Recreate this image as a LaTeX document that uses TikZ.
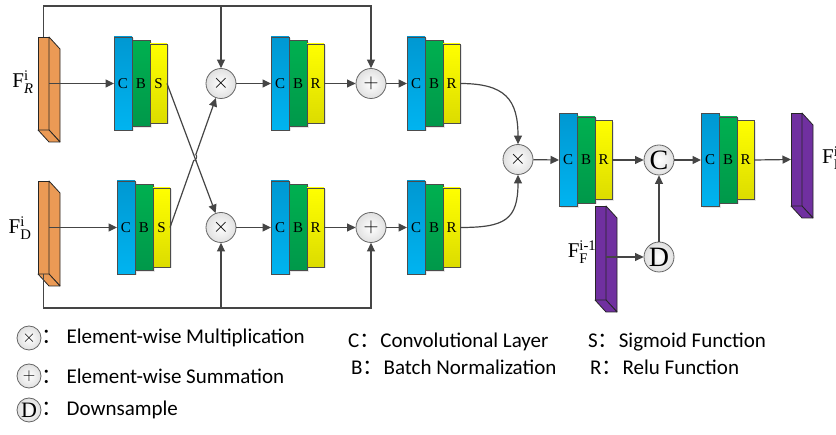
\documentclass[tikz,border=0pt]{standalone}
\usepackage{fontspec}
\usepackage{amsmath}
\setmainfont{Carlito}
\newfontfamily\tms{Liberation Serif}
\newfontfamily\cjk{Noto Sans CJK SC}
\usetikzlibrary{positioning,
				arrows.meta,
				shadows,
				intersections,
				calc}

\definecolor{lineg}{HTML}{454545}
\definecolor{cbluet}{HTML}{0098D2}
\definecolor{cblueb}{HTML}{00B4F0}
\definecolor{bgreent}{HTML}{00B050}
\definecolor{bgreenb}{HTML}{00984A}
\definecolor{syelt}{HTML}{FFFF00}
\definecolor{syelb}{HTML}{DCDC00}
\definecolor{slaborange}{HTML}{EB9A55}
\definecolor{slabpurple}{HTML}{7030A0}

\tikzset{
	blk/.style={draw=black!70, line width=0.8pt, inner sep=0pt, outer sep=0pt,
		font=\tms\fontsize{15}{15}\selectfont,
		drop shadow={opacity=0.2, shadow xshift=1.5pt, shadow yshift=-1.5pt}},
	blkC/.style={blk, minimum width=18, minimum height=93, top color=cbluet, bottom color=cblueb},
	blkB/.style={blk, minimum width=18, minimum height=86, top color=bgreent, bottom color=bgreenb},
	blkS/.style={blk, minimum width=17, minimum height=79, top color=syelt, bottom color=syelb},
	slabf/.style={draw=black!85, line width=0.8pt, inner sep=0pt, outer sep=0pt, minimum width=11},
	slabe/.style={draw=black!85, line width=0.8pt, line join=round},
	opnode/.style={circle, draw=black!60, line width=0.8pt, minimum size=30, inner sep=0pt,
		inner color=white, outer color=black!12, font=\fontsize{21}{21}\selectfont},
	legop/.style={opnode, minimum size=24, font=\fontsize{18}{18}\selectfont},
	flabel/.style={inner sep=0pt, font=\tms\fontsize{21}{21}\selectfont},
	legtext/.style={inner sep=0pt, font=\fontsize{21}{21}\selectfont},
	arr/.style={draw=lineg, line width=1.2pt, -{Triangle[length=8.5pt,width=8pt]}},
	conn/.style={draw=lineg, line width=1.2pt}
}

% three stacked layers: conv, batch norm, activation
\newcommand{\cbrgroup}[4]{%
	\node[blkC, anchor=west] (#1c) at (#2,#3) {C};
	\node[blkB, right=0pt of #1c] (#1b) {B};
	\node[blkS, right=0pt of #1b] (#1s) {#4};
}
% feature map slab with depth
\newcommand{\slab}[5]{%
	\node[slabf, fill=#5, minimum height=#4, anchor=north west] (#1) at (#2,#3) {};
	\draw[slabe, fill=#5] (#1.north east) -- ++(11,12) -- ++(0,#4) -- (#1.south east) -- cycle;
	\draw[slabe, fill=#5] (#1.south west) -- (#1.south east) -- ++(11,12) -- ++(-11,0) -- cycle;
}

\begin{document}
\begin{tikzpicture}[x=1pt, y=-1pt]
	\useasboundingbox (0,0) rectangle (836,435);
	\clip (0,0) rectangle (836,435);
	
	% inputs
	\slab{fr}{38}{37}{93}{slaborange}
	\slab{fd}{38}{181}{93}{slaborange}
	\node[flabel] (lblr) at (23,82) {F$^{\text{i}}_{\text{\itshape R}}$};
	\node[flabel] (lbld) at (20,228) {F$^{\text{i}}_{\text{D}}$};
	
	% layer groups
	\cbrgroup{ta}{114}{83.5}{S}
	\cbrgroup{tb}{271}{83.5}{R}
	\cbrgroup{tc}{407}{83.5}{R}
	\cbrgroup{ba}{117}{227.5}{S}
	\cbrgroup{bb}{271}{227.5}{R}
	\cbrgroup{bc}{407}{227.5}{R}
	\cbrgroup{ma}{559}{160}{R}
	\cbrgroup{mb}{701}{160}{R}
	
	% operators
	\node[opnode] (m1) at (221,83.5) {$\times$};
	\node[opnode] (m2) at (221,227.5) {$\times$};
	\node[opnode] (p1) at (371,83.5) {$+$};
	\node[opnode] (p2) at (371,227.5) {$+$};
	\node[opnode] (m3) at (518,159.5) {$\times$};
	\node[opnode, font=\tms\fontsize{28}{28}\selectfont] (cc) at (659,160) {C};
	\node[opnode, font=\tms\fontsize{28}{28}\selectfont] (dd) at (659,257) {D};
	
	% previous and output features
	\slab{fp}{595}{206}{94}{slabpurple}
	\node[flabel] (lblp) at (582,252) {F$^{\text{i-1}}_{\text{F}}$};
	\slab{fo}{791}{113}{93}{slabpurple}
	\node[flabel, anchor=west] (lblo) at (822,158) {F$^{\text{i}}_{\text{F}}$};
	
	% skip lines
	\coordinate (topy) at (0,6);
	\coordinate (boty) at (0,308);
	\draw[arr] (fr.north) -- (fr.north |- topy) -- (p1 |- topy) -- (p1.north);
	\draw[arr] (m1 |- topy) -- (m1.north);
	\draw[arr] (fd.south) -- (fd.south |- boty) -- (p2 |- boty) -- (p2.south);
	\draw[arr] (m2 |- boty) -- (m2.south);
	
	% main flow
	\draw[arr] (fr.east) -- (tac.west);
	\draw[arr] (fd.east) -- (bac.west);
	\draw[arr, name path=cra] (tas.east) -- (m2);
	\draw[arr, name path=crb] (bas.east) -- (m1);
	% little hop where the two lines cross
	\path[name intersections={of=cra and crb, by=xx}];
	\fill[white] (xx) circle (3);
	\draw[conn] ($(xx)!4pt!(tas.east)$) -- ($(xx)!4pt!(m2)$);
	\draw[conn, line width=1pt] ($(xx)!3pt!(bas.east)$) to[bend right=90] ($(xx)!3pt!(m1)$);
	\draw[arr] (m1) -- (tbc.west);
	\draw[arr] (m2) -- (bbc.west);
	\draw[arr] (tbs.east) -- (p1);
	\draw[arr] (bbs.east) -- (p2);
	\draw[arr] (p1) -- (tcc.west);
	\draw[arr] (p2) -- (bcc.west);
	\draw[arr] (tcs.east) .. controls +(45,0) and +(0,-45) .. (m3.north);
	\draw[arr] (bcs.east) .. controls +(45,0) and +(0,45) .. (m3.south);
	\draw[arr] (m3) -- (mac.west);
	\draw[arr] (mas.east) -- (cc);
	\draw[arr] (fp.east |- dd) -- (dd);
	\draw[arr] (dd) -- (cc);
	\draw[arr] (cc) -- (mbc.west);
	\draw[arr] (mbs.east) -- (fo.west);
	
	% legend
	\node[legop] (lgm) at (29,338) {$\times$};
	\node[legop] (lgp) at (29,376) {$+$};
	\node[legop, font=\tms\fontsize{22}{22}\selectfont] (lgd) at (29,410) {D};
	\node[legtext, right=0pt of lgm] (lgmt) {{\cjk ：}\hspace{4pt}Element-wise Multiplication};
	\node[legtext, right=0pt of lgp] (lgpt) {{\cjk ：}\hspace{4pt}Element-wise Summation};
	\node[legtext, right=0pt of lgd] (lgdt) {{\cjk ：}\hspace{4pt}Downsample};
	\node[legtext, anchor=west] (lgc) at (348,342) {C{\cjk ：}Convolutional Layer};
	\node[legtext, anchor=west] (lgb) at (351,367) {B{\cjk ：}Batch Normalization};
	\node[legtext, anchor=west] (lgs) at (588,342) {S{\cjk ：}Sigmoid Function};
	\node[legtext, anchor=west] (lgr) at (590,367) {R{\cjk ：}Relu Function};
\end{tikzpicture}
\end{document}
